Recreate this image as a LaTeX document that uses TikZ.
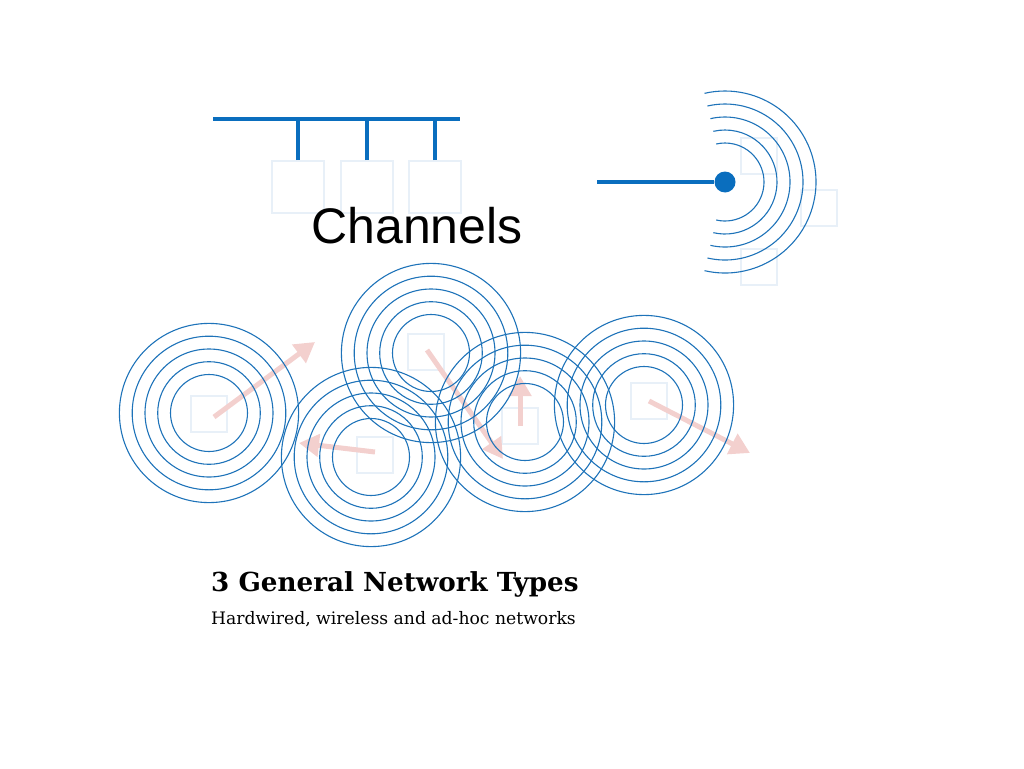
\documentclass[tikz,border=0pt]{standalone}
\usepackage{fontspec}
\setmainfont{DejaVu Serif}
\newfontfamily\arialfont{Liberation Sans}
\usetikzlibrary{arrows.meta}
\definecolor{wireblue}{RGB}{10,110,190}
\definecolor{ringblue}{RGB}{30,115,185}
\definecolor{faintsq}{RGB}{232,240,248}
\definecolor{pinkarrow}{RGB}{243,208,206}
\tikzset{
  wire/.style={draw=wireblue,line width=4pt},
  ring/.style={draw=ringblue,line width=1.1pt},
  fsq/.style={draw=faintsq,line width=2pt,minimum size=#1,inner sep=0pt,shape=rectangle},
  mover/.style={draw=pinkarrow,line width=5pt,-{Triangle[length=20pt,width=22pt]}},
}
\newcommand{\ringset}[2]{%
  \foreach \r in {38.5,51.3,64,76.8,89.6}{\draw[ring] (#1,#2) circle (\r pt);}%
}
\begin{document}
\begin{tikzpicture}[x=1pt,y=-1pt]
\useasboundingbox (0,0) rectangle (1024,768);
% faint squares (background)
\node[fsq=52pt] (b1) at (298,187) {};
\node[fsq=52pt] (b2) at (367,187) {};
\node[fsq=52pt] (b3) at (435,187) {};
\node[fsq=36pt] (w1) at (759,156) {};
\node[fsq=36pt] (w2) at (819,208) {};
\node[fsq=36pt] (w3) at (759,267) {};
\node[fsq=36pt] (a1) at (209,414) {};
\node[fsq=36pt] (a2) at (375,455) {};
\node[fsq=36pt] (a3) at (426,352) {};
\node[fsq=36pt] (a4) at (520,426) {};
\node[fsq=36pt] (a5) at (649,401) {};
% pink movement arrows
\coordinate (s1) at (214,417); \coordinate (t1) at (315,342);
\coordinate (s2) at (375,452); \coordinate (t2) at (299,443);
\coordinate (s3) at (427,350); \coordinate (t3) at (503,459);
\coordinate (s4) at (520,426); \coordinate (t4) at (520,376);
\coordinate (s5) at (649,401); \coordinate (t5) at (750,453);
\draw[mover] (s1) -- (t1);
\draw[mover] (s2) -- (t2);
\draw[mover] (s3) -- (t3);
\draw[mover] (s4) -- (t4);
\draw[mover] (s5) -- (t5);
% rings
\ringset{209}{413}
\ringset{371}{457}
\ringset{431}{353}
\ringset{525}{422}
\ringset{644}{405}
% hardwired bus
\coordinate (busL) at (213,119);
\coordinate (busR) at (460,119);
\draw[wire] (busL) -- (busR);
\draw[wire] (b1.north) -- (b1.north |- busL);
\draw[wire] (b2.north) -- (b2.north |- busL);
\draw[wire] (b3.north) -- (b3.north |- busL);
% wireless
\node[circle,fill=wireblue,minimum size=21pt,inner sep=0pt] (ant) at (725,182) {};
\coordinate (feed) at (597,182);
\draw[wire] (feed) -- (ant);
\foreach \r in {39,52,65,78,91}{
  \draw[ring] (ant.center) ++(-103:\r pt) arc[start angle=-103,end angle=103,radius=\r pt];
}
% texts
\node[font=\arialfont\fontsize{50}{60}\selectfont,inner sep=0pt] (title) at (417,226) {Channels};
\node[anchor=base west,font=\bfseries\fontsize{26.2}{32}\selectfont,inner sep=0pt] (head) at (211,591) {3 General Network Types};
\node[anchor=base west,font=\fontsize{17.2}{21}\selectfont,inner sep=0pt] (sub) at (211,624) {Hardwired, wireless and ad-hoc networks};
\end{tikzpicture}
\end{document}
